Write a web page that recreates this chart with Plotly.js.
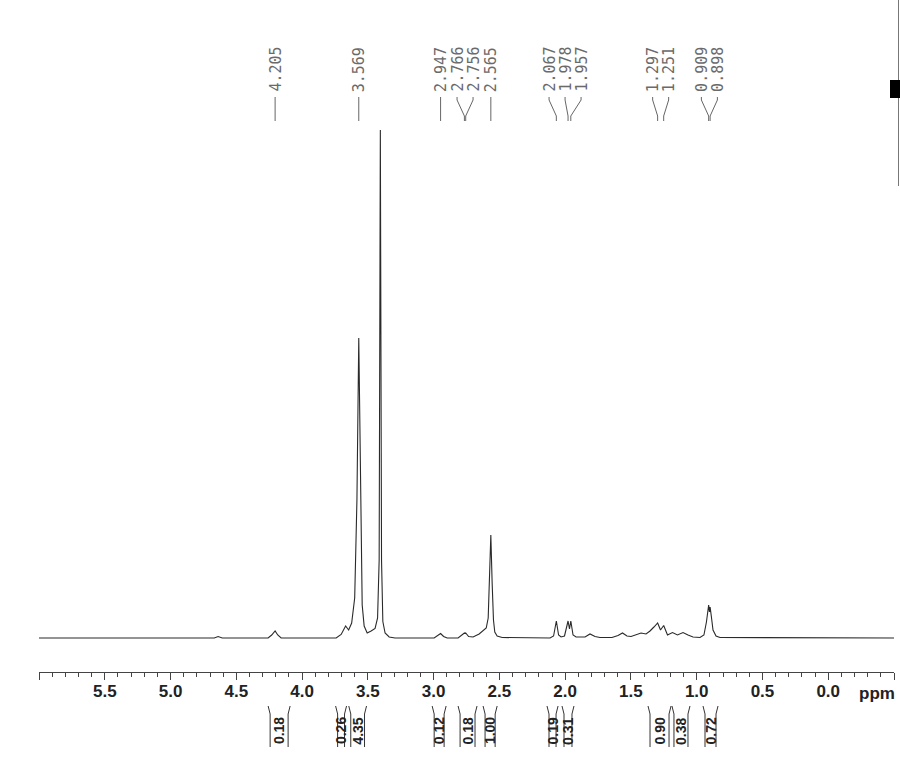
<!DOCTYPE html>
<html>
<head>
<meta charset="utf-8">
<script src="https://cdn.plot.ly/plotly-3.0.1.min.js"></script>
<style>
html,body{margin:0;padding:0;background:#fff;}
#chart{width:900px;height:763px;}
</style>
</head>
<body>
<div id="chart"></div>
<script>
// Spectrum (chemical shift in ppm, intensity in arbitrary units)
const ppm = [6.00, 5.413, 5.394, 5.375, 4.668, 4.638, 4.607, 4.258, 4.231, 4.205, 4.185, 4.159,
  3.741, 3.703, 3.669, 3.646, 3.623, 3.600, 3.583, 3.569, 3.555, 3.543, 3.528, 3.505, 3.475, 3.445,
  3.426, 3.414, 3.405, 3.396, 3.386, 3.369, 3.338, 3.293,
  2.996, 2.973, 2.947, 2.924, 2.897, 2.814, 2.791, 2.766, 2.761, 2.756, 2.734, 2.700, 2.654, 2.624,
  2.600, 2.585, 2.575, 2.565, 2.555, 2.545, 2.535, 2.517, 2.479,
  2.115, 2.088, 2.067, 2.050, 2.031, 2.005, 1.978, 1.967, 1.957, 1.940, 1.917, 1.849, 1.811, 1.773,
  1.735, 1.644, 1.598, 1.564, 1.530, 1.499, 1.461, 1.423, 1.385, 1.355, 1.325, 1.297, 1.275, 1.251,
  1.222, 1.184, 1.146, 1.104, 1.066, 1.028, 0.975, 0.945, 0.926, 0.909, 0.903, 0.898, 0.888, 0.876,
  0.853, 0.823, -0.50];
const intensity = [0, 0, 0.6, 0, 0, 1.5, 0, 0, 3, 7, 3, 0,
  0, 3.5, 12, 8, 15, 40, 138, 300, 138, 33, 12, 5, 7, 9.5,
  20, 78, 508, 78, 16.5, 5, 1, 0,
  0, 2, 4.5, 1.5, 0, 0, 2, 5, 4.5, 5, 1.5, 1, 4, 7,
  10, 20, 55, 103, 55, 18, 6, 2, 0.5,
  0, 2, 17, 3, 1, 2, 17, 9, 17, 3, 1, 1, 4, 1.5,
  0.5, 0.5, 2.5, 5, 2, 1.5, 3.5, 5, 4, 7, 11, 15, 8, 12.5,
  3, 5.5, 3, 5.5, 3, 1, 0.5, 3, 16, 33, 26, 31, 21, 8,
  2, 0.5, 0];

// Peak picking labels
const peakLabels = [4.205, 3.569, 2.947, 2.766, 2.756, 2.565, 2.067, 1.978, 1.957, 1.297, 1.251, 0.909, 0.898];

// Integrals
const intStart = [4.258, 3.745, 3.645, 3.011, 2.814, 2.624, 2.138, 2.024, 1.370, 1.188, 0.952];
const intEnd   = [4.091, 3.662, 3.510, 2.905, 2.670, 2.517, 2.054, 1.933, 1.195, 1.051, 0.838];
const intValue = ['0.18', '0.26', '4.35', '0.12', '0.18', '1.00', '0.19', '0.31', '0.90', '0.38', '0.72'];

// Axis ticks
const tickVals = [6.0, 5.5, 5.0, 4.5, 4.0, 3.5, 3.0, 2.5, 2.0, 1.5, 1.0, 0.5, 0.0, -0.5];
const tickText = ['', '5.5', '5.0', '4.5', '4.0', '3.5', '3.0', '2.5', '2.0', '1.5', '1.0', '0.5', '0.0', ''];

// ---- layout geometry ----
const W = 900, H = 763;
const M = {l: 39, r: 6, t: 120, b: 91};
const plotH = H - M.t - M.b;
const plotW = W - M.l - M.r;
const XR = [6.0, -0.5];
const pxPerPpm = plotW / (XR[0] - XR[1]);
function py(Y) { return (H - M.b - Y) / plotH; }   // pixel row -> paper y
function px(X) { return (X - M.l) / plotW; }       // pixel col -> paper x

// spread labels so they don't overlap
function spread(vals, s) {
  let cl = vals.map(v => ({m: [v]}));
  const center = c => c.m.reduce((a, b) => a + b, 0) / c.m.length;
  let changed = true;
  while (changed) {
    changed = false;
    for (let i = 0; i < cl.length - 1; i++) {
      const a = cl[i], b = cl[i + 1];
      const aEnd = center(a) - (a.m.length - 1) * s / 2;
      const bStart = center(b) + (b.m.length - 1) * s / 2;
      if (aEnd - bStart < s - 1e-9) {
        cl.splice(i, 2, {m: a.m.concat(b.m)});
        changed = true;
        break;
      }
    }
  }
  const out = [];
  cl.forEach(c => {
    const ctr = center(c);
    c.m.forEach((v, k) => out.push(ctr + ((c.m.length - 1) / 2 - k) * s));
  });
  return out;
}
const labelPos = spread(peakLabels, 16 / pxPerPpm);

const annotations = [];
const shapes = [];
const lineCol = '#444';

peakLabels.forEach((v, i) => {
  const lx = labelPos[i];
  annotations.push({
    x: lx, xref: 'x', y: py(94), yref: 'paper',
    text: v.toFixed(3), showarrow: false, textangle: -90,
    xanchor: 'center', yanchor: 'bottom',
    font: {family: 'DejaVu Sans Mono', size: 15, color: '#6a6a6a'}
  });
  shapes.push({
    type: 'path', xref: 'x', yref: 'paper',
    path: `M ${lx},${py(97)} L ${lx},${py(100)} L ${v},${py(116)} L ${v},${py(121)}`,
    line: {color: '#666', width: 1}
  });
});

const inset = 2 / pxPerPpm;
intValue.forEach((t, i) => {
  const a = intStart[i], b = intEnd[i];
  shapes.push({
    type: 'path', xref: 'x', yref: 'paper',
    path: `M ${a},${py(706)} L ${a - inset},${py(714)} L ${a - inset},${py(747)}`,
    line: {color: '#333', width: 1}
  });
  shapes.push({
    type: 'path', xref: 'x', yref: 'paper',
    path: `M ${b},${py(706)} L ${b + inset},${py(714)} L ${b + inset},${py(747)}`,
    line: {color: '#333', width: 1}
  });
  annotations.push({
    x: (a + b) / 2, xref: 'x', y: py(731), yref: 'paper',
    text: t, showarrow: false, textangle: -90,
    xanchor: 'center', yanchor: 'middle',
    font: {family: 'Liberation Sans, Arial', size: 14, color: '#222', weight: 'bold'}
  });
});

// 'ppm' axis unit
annotations.push({
  x: px(876.5), xref: 'paper', y: py(693), yref: 'paper',
  text: '<b>ppm</b>', showarrow: false, xanchor: 'center', yanchor: 'middle',
  font: {family: 'Liberation Sans, Arial', size: 17, color: '#222'}
});

// cropped artefact at the top-right edge
shapes.push({type: 'line', xref: 'paper', yref: 'paper', x0: px(898.5), x1: px(898.5), y0: py(0), y1: py(186),
  line: {color: '#777', width: 1}});
shapes.push({type: 'rect', xref: 'paper', yref: 'paper', x0: px(890), x1: px(900), y0: py(80), y1: py(98),
  line: {width: 0}, fillcolor: '#000'});

const trace = {
  x: ppm, y: intensity, type: 'scatter', mode: 'lines',
  line: {color: '#2a2a2a', width: 1.1},
  hoverinfo: 'skip'
};

const layout = {
  width: W, height: H,
  margin: M,
  paper_bgcolor: '#fff', plot_bgcolor: '#fff',
  showlegend: false,
  xaxis: {
    range: XR, showgrid: false, zeroline: false,
    showline: true, linecolor: lineCol, linewidth: 1,
    ticks: 'outside', ticklen: 7, tickwidth: 1, tickcolor: lineCol,
    tickmode: 'array', tickvals: tickVals, ticktext: tickText,
    tickfont: {family: 'Liberation Sans, Arial', size: 17, color: '#222', weight: 'bold'},
    ticklabelstandoff: -3,
    minor: {dtick: 0.1, tick0: 0, ticks: 'outside', ticklen: 4, tickwidth: 1, tickcolor: lineCol, showgrid: false},
    fixedrange: true
  },
  yaxis: {
    range: [-34, 518], visible: false, showgrid: false, zeroline: false, fixedrange: true
  },
  annotations: annotations,
  shapes: shapes
};

Plotly.newPlot('chart', [trace], layout, {displayModeBar: false, staticPlot: true});
</script>
</body>
</html>
